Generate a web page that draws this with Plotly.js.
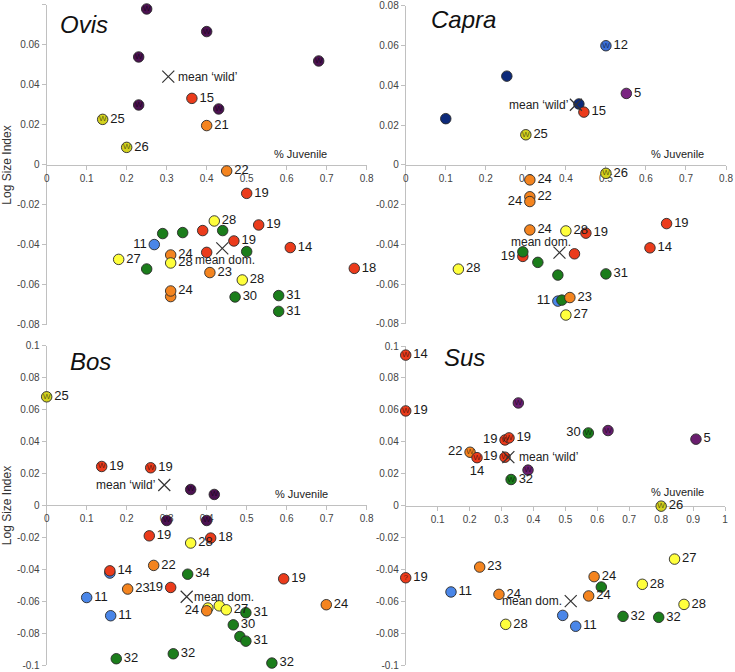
<!DOCTYPE html>
<html>
<head>
<meta charset="utf-8">
<script src="https://cdn.plot.ly/plotly-3.0.1.min.js"></script>
<style>
  body { margin: 0; background: #fff; }
  #chart { width: 735px; height: 672px; }
</style>
</head>
<body>
<div id="chart"></div>
<script>
//--- BEGIN DATA ---------------------------------------------------------------
// kind codes: P purple, PS purple (Sus), PL light purple, R red, O orange,
// Y yellow, YW wild yellow, G green, B blue, BW wild blue, N navy
// mark: 'W' wild marker, '?' uncertain, '' none
// side: r right, l left, b below

// Ovis
const ovisX     = [0.25, 0.40, 0.23, 0.68, 0.23, 0.43, 0.363, 0.40, 0.14, 0.20,
                   0.45, 0.50, 0.419, 0.53, 0.29, 0.34, 0.39, 0.44, 0.468, 0.269,
                   0.40, 0.50, 0.609, 0.31, 0.18, 0.31, 0.25, 0.769, 0.408, 0.489,
                   0.31, 0.31, 0.471, 0.58, 0.58];
const ovisY     = [0.078, 0.0667, 0.054, 0.052, 0.030, 0.028, 0.0333, 0.0197, 0.0228, 0.0088,
                   -0.003, -0.0142, -0.028, -0.030, -0.0343, -0.0338, -0.0328, -0.0328, -0.038, -0.0398,
                   -0.0437, -0.0433, -0.0413, -0.045, -0.0472, -0.049, -0.052, -0.0517, -0.0538, -0.0575,
                   -0.0658, -0.063, -0.066, -0.0653, -0.0732];
const ovisKind  = ['P','P','P','P','P','P','R','O','YW','YW',
                   'O','R','Y','R','G','G','R','G','R','B',
                   'R','G','R','O','Y','Y','G','R','O','Y',
                   'O','O','G','G','G'];
const ovisLabel = ['','','','','','','15','21','25','26',
                   '22','19','28','19','','','','','19','11',
                   '','','14','24','27','28','','18','23','28',
                   '','24','30','31','31'];
const ovisMark  = ['W','W','W','W','W','W','','','W','W'];
const ovisSide  = {19: 'l'};
const ovisMean  = { wild: [0.304, 0.0442], dom: [0.439, -0.0417] };

// Capra
const capraX     = [0.50, 0.2525, 0.10, 0.4325, 0.445, 0.551, 0.30, 0.50, 0.31, 0.31,
                    0.31, 0.31, 0.40, 0.45, 0.6515, 0.61, 0.4215, 0.2925, 0.2925, 0.33,
                    0.1315, 0.38, 0.50, 0.38, 0.39, 0.41, 0.40];
const capraY     = [0.060, 0.0447, 0.0233, 0.0307, 0.0266, 0.036, 0.0152, -0.0042, -0.0075, -0.016,
                    -0.0184, -0.0327, -0.0332, -0.0343, -0.0295, -0.0417, -0.0447, -0.046, -0.0437, -0.049,
                    -0.0524, -0.0554, -0.0548, -0.0685, -0.068, -0.0667, -0.0755];
const capraKind  = ['BW','N','N','N','R','PL','YW','YW','O','O',
                    'O','O','Y','R','R','R','R','R','G','G',
                    'Y','G','G','B','G','O','Y'];
const capraLabel = ['12','','','','15','5','25','26','24','22',
                    '24','24','28','19','19','14','','19','','',
                    '28','','31','11','','23','27'];
const capraMark  = ['W','','','','','','W','W'];
const capraSide  = {10: 'l', 17: 'l', 23: 'l'};
const capraMean  = { wild: [0.425, 0.0303], dom: [0.384, -0.0441] };

// Bos
const bosX     = [0.0, 0.1375, 0.26, 0.36, 0.419, 0.30, 0.40, 0.2565, 0.41, 0.36,
                  0.2675, 0.158, 0.158, 0.3525, 0.5925, 0.31, 0.2025, 0.10, 0.403, 0.40,
                  0.4315, 0.449, 0.498, 0.699, 0.16, 0.4665, 0.483, 0.498, 0.174, 0.3165,
                  0.563];
const bosY     = [0.068, 0.0244, 0.0236, 0.010, 0.0069, -0.0094, -0.0094, -0.019, -0.0204, -0.0235,
                  -0.0375, -0.0423, -0.0409, -0.043, -0.0459, -0.0513, -0.0523, -0.0576, -0.0642, -0.0659,
                  -0.0628, -0.0653, -0.0671, -0.0621, -0.069, -0.0747, -0.082, -0.0849, -0.0959, -0.0928,
                  -0.0986];
const bosKind  = ['YW','R','R','P','P','P','P','R','R','Y',
                  'O','B','R','G','R','R','O','B','Y','O',
                  'Y','Y','G','O','B','G','G','G','G','G',
                  'G'];
const bosLabel = ['25','19','19','','','','','19','18','28',
                  '22','','14','34','19','19','23','11','','24',
                  '','27','31','24','11','30','','31','32','32',
                  '32'];
const bosMark  = ['W','W','W','W','W','W','W'];
const bosSide  = {15: 'l', 19: 'l'};
const bosMean  = { wild: [0.294, 0.0128], dom: [0.35, -0.0571] };

// Sus
const susX     = [0.0, 0.0, 0.3527, 0.572, 0.6336, 0.909, 0.311, 0.3235, 0.2015, 0.2233,
                  0.311, 0.383, 0.33, 0.80, 0.842, 0.2317, 0.0, 0.59, 0.6126, 0.741,
                  0.1418, 0.292, 0.573, 0.8716, 0.4917, 0.6806, 0.7924, 0.3132, 0.5324];
const susY     = [0.0943, 0.0593, 0.0643, 0.0455, 0.047, 0.0416, 0.0411, 0.0424, 0.0334, 0.030,
                  0.0303, 0.0222, 0.0163, -0.0004, -0.0336, -0.0386, -0.0453, -0.0446, -0.0511, -0.0494,
                  -0.0542, -0.0557, -0.0567, -0.062, -0.0689, -0.0695, -0.0701, -0.0745, -0.0757];
const susKind  = ['R','R','PS','G','PS','PS','R','R','O','R',
                  'R','PS','G','YW','Y','O','R','O','G','Y',
                  'B','O','O','Y','B','G','G','Y','B'];
const susLabel = ['14','19','','30','','5','19','19','22','14',
                  '19','','32','26','27','23','19','24','','28',
                  '11','24','24','28','','32','32','28','11'];
const susMark  = ['W','W','W','W','W','','W','W','W','W',
                  'W','W','W','W','','','?'];
const susSide  = {3: 'l', 6: 'l', 8: 'l', 9: 'b', 10: 'l'};
const susMean  = { wild: [0.3215, 0.0303], dom: [0.5168, -0.0599] };

// tick labels
const ticks08     = [0, 0.1, 0.2, 0.3, 0.4, 0.5, 0.6, 0.7, 0.8];
const ticks08Text = ['0', '0.1', '0.2', '0.3', '0.4', '0.5', '0.6', '0.7', '0.8'];
const ticks10     = [0.1, 0.2, 0.3, 0.4, 0.5, 0.6, 0.7, 0.8, 0.9, 1];
const ticks10Text = ['0.1', '0.2', '0.3', '0.4', '0.5', '0.6', '0.7', '0.8', '0.9', '1'];
const yTicks08     = [0.08, 0.06, 0.04, 0.02, 0, -0.02, -0.04, -0.06, -0.08];
const yTicks08Text = ['0.08', '0.06', '0.04', '0.02', '0', '-0.02', '-0.04', '-0.06', '-0.08'];
const yTicks10     = [0.1, 0.08, 0.06, 0.04, 0.02, 0, -0.02, -0.04, -0.06, -0.08, -0.1];
const yTicks10Text = ['0.1', '0.08', '0.06', '0.04', '0.02', '0', '-0.02', '-0.04', '-0.06', '-0.08', '-0.1'];
//--- END DATA -----------------------------------------------------------------

const kindColor = {
    P : '#4b1150', PS: '#6a1d6f', PL: '#7a2581',
    R : '#eb3b1b', O : '#f4841f', Y : '#ffff3c', YW: '#d3d21f',
    G : '#1b7d1b', B : '#4a86e8', BW: '#3b6fd6', N : '#0d2a7a'
};
const sidePos = { r: 'middle right', l: 'middle left', b: 'bottom center' };
const FONT = 'Liberation Sans, Arial, sans-serif';

// build marker, inner mark and mean traces for one panel
function panelTraces(xs, ys, kinds, labels, marks, sides, mean, xa, ya) {
    const pos = labels.map((l, i) => sidePos[sides[i] || 'r']);
    const pts = {
        x: xs, y: ys, xaxis: xa, yaxis: ya,
        type: 'scatter', mode: 'markers+text', cliponaxis: false,
        text: labels, textposition: pos,
        textfont: { family: FONT, size: 13, color: '#1a1a1a' },
        marker: {
            size: 10.5,
            color: kinds.map(k => kindColor[k]),
            line: { color: '#2a2a2a', width: 0.9 }
        },
        hoverinfo: 'x+y'
    };
    // inner "W" / "?" glyphs
    const mi = marks.map((m, i) => i).filter(i => marks[i]);
    const inner = {
        x: mi.map(i => xs[i]), y: mi.map(i => ys[i]), xaxis: xa, yaxis: ya,
        type: 'scatter', mode: 'text', cliponaxis: false,
        text: mi.map(i => marks[i]), textposition: 'middle center',
        textfont: { family: FONT, size: 8, color: 'rgba(0,0,0,0.6)' },
        hoverinfo: 'skip'
    };
    const means = {
        x: [mean.wild[0], mean.dom[0]], y: [mean.wild[1], mean.dom[1]],
        xaxis: xa, yaxis: ya, type: 'scatter', mode: 'markers', cliponaxis: false,
        marker: { symbol: 'x-thin-open', size: 12, color: '#333', line: { color: '#333', width: 1.2 } },
        hoverinfo: 'skip'
    };
    return [pts, inner, means];
}

const data = [].concat(
    panelTraces(ovisX, ovisY, ovisKind, ovisLabel, ovisMark, ovisSide, ovisMean, 'x', 'y'),
    panelTraces(capraX, capraY, capraKind, capraLabel, capraMark, capraSide, capraMean, 'x2', 'y2'),
    panelTraces(bosX, bosY, bosKind, bosLabel, bosMark, bosSide, bosMean, 'x3', 'y3'),
    panelTraces(susX, susY, susKind, susLabel, susMark, susSide, susMean, 'x4', 'y4')
);

// panel placement (paper fractions)
const dom = {
    ovis : { x: [0.0635, 0.4989], y: [0.5164, 0.9926], yr: [-0.08, 0.08], xr: [0, 0.8] },
    capra: { x: [0.5520, 0.9878], y: [0.5179, 0.9911], yr: [-0.08, 0.08], xr: [0, 0.8] },
    bos  : { x: [0.0635, 0.4989], y: [0.0100, 0.4856], yr: [-0.1, 0.1],   xr: [0, 0.8] },
    sus  : { x: [0.5520, 0.9864], y: [0.0104, 0.4851], yr: [-0.1, 0.1],   xr: [0, 1] }
};

// x axis crosses at y = 0
function xAxis(d, tv, tt) {
    const pos = d.y[0] + (0 - d.yr[0]) / (d.yr[1] - d.yr[0]) * (d.y[1] - d.y[0]);
    return {
        domain: d.x, range: d.xr, anchor: 'free', position: pos,
        showline: true, linecolor: '#c0c0c0', linewidth: 1,
        ticks: 'outside', ticklen: 4, tickcolor: '#c0c0c0',
        tickvals: tv, ticktext: tt,
        tickfont: { family: FONT, size: 10, color: '#444' },
        showgrid: false, zeroline: false, layer: 'below traces', fixedrange: true
    };
}
function yAxis(d, xa, tv, tt, title) {
    return {
        domain: d.y, range: d.yr, anchor: xa,
        showline: true, linecolor: '#c0c0c0', linewidth: 1,
        ticks: 'outside', ticklen: 4, tickcolor: '#c0c0c0',
        tickvals: tv, ticktext: tt,
        tickfont: { family: FONT, size: 10, color: '#444' },
        title: title ? { text: title, standoff: 4, font: { family: FONT, size: 12, color: '#333' } } : undefined,
        automargin: false,
        showgrid: false, zeroline: false, layer: 'below traces', fixedrange: true
    };
}

function note(text, x, y, xa, ya, opts) {
    return Object.assign({
        text: text, x: x, y: y, xref: xa, yref: ya, showarrow: false,
        font: { family: FONT, size: 12, color: '#222' }
    }, opts || {});
}
const titleFont = { family: FONT, size: 24, color: '#111' };
const juvFont   = { family: FONT, size: 11, color: '#222' };

const annotations = [
    // panel titles
    note('<i>Ovis</i>', 0.028, 0.070, 'x', 'y', { xanchor: 'left', font: titleFont }),
    note('<i>Capra</i>', 0.058, 0.073, 'x2', 'y2', { xanchor: 'left', font: titleFont }),
    note('<i>Bos</i>', 0.053, 0.090, 'x3', 'y3', { xanchor: 'left', font: titleFont }),
    note('<i>Sus</i>', 0.114, 0.093, 'x4', 'y4', { xanchor: 'left', font: titleFont }),
    // x axis names
    note('% Juvenile', 0.635, 0.0055, 'x', 'y', { font: juvFont }),
    note('% Juvenile', 0.680, 0.0055, 'x2', 'y2', { font: juvFont }),
    note('% Juvenile', 0.6375, 0.0073, 'x3', 'y3', { font: juvFont }),
    note('% Juvenile', 0.852, 0.0086, 'x4', 'y4', { font: juvFont }),
    // mean labels
    note('mean ‘wild’', ovisMean.wild[0], ovisMean.wild[1], 'x', 'y', { xanchor: 'left', xshift: 8 }),
    note('mean dom.', ovisMean.dom[0], ovisMean.dom[1], 'x', 'y', { xshift: 3, yshift: -12 }),
    note('mean ‘wild’', capraMean.wild[0], capraMean.wild[1], 'x2', 'y2', { xanchor: 'right', xshift: -6 }),
    note('mean dom.', capraMean.dom[0], capraMean.dom[1], 'x2', 'y2', { xshift: -18, yshift: 11 }),
    note('mean ‘wild’', bosMean.wild[0], bosMean.wild[1], 'x3', 'y3', { xanchor: 'right', xshift: -7 }),
    note('mean dom.', bosMean.dom[0], bosMean.dom[1], 'x3', 'y3', { xanchor: 'left', xshift: 5 }),
    note('mean ‘wild’', susMean.wild[0], susMean.wild[1], 'x4', 'y4', { xanchor: 'left', xshift: 9 }),
    note('mean dom.', susMean.dom[0], susMean.dom[1], 'x4', 'y4', { xanchor: 'right', xshift: -7 })
];

const layout = {
    width: 735, height: 672,
    margin: { l: 0, r: 0, t: 0, b: 0 },
    paper_bgcolor: '#fff', plot_bgcolor: 'rgba(0,0,0,0)',
    showlegend: false,
    font: { family: FONT },
    xaxis : xAxis(dom.ovis, ticks08, ticks08Text),
    xaxis2: xAxis(dom.capra, ticks08, ticks08Text),
    xaxis3: xAxis(dom.bos, ticks08, ticks08Text),
    xaxis4: xAxis(dom.sus, ticks10, ticks10Text),
    yaxis : yAxis(dom.ovis, 'x', yTicks08, yTicks08Text, 'Log Size Index'),
    yaxis2: yAxis(dom.capra, 'x2', yTicks08, yTicks08Text),
    yaxis3: yAxis(dom.bos, 'x3', yTicks10, yTicks10Text, 'Log Size Index'),
    yaxis4: yAxis(dom.sus, 'x4', yTicks10, yTicks10Text),
    annotations: annotations
};

Plotly.newPlot('chart', data, layout, { displayModeBar: false, staticPlot: true });
</script>
</body>
</html>
